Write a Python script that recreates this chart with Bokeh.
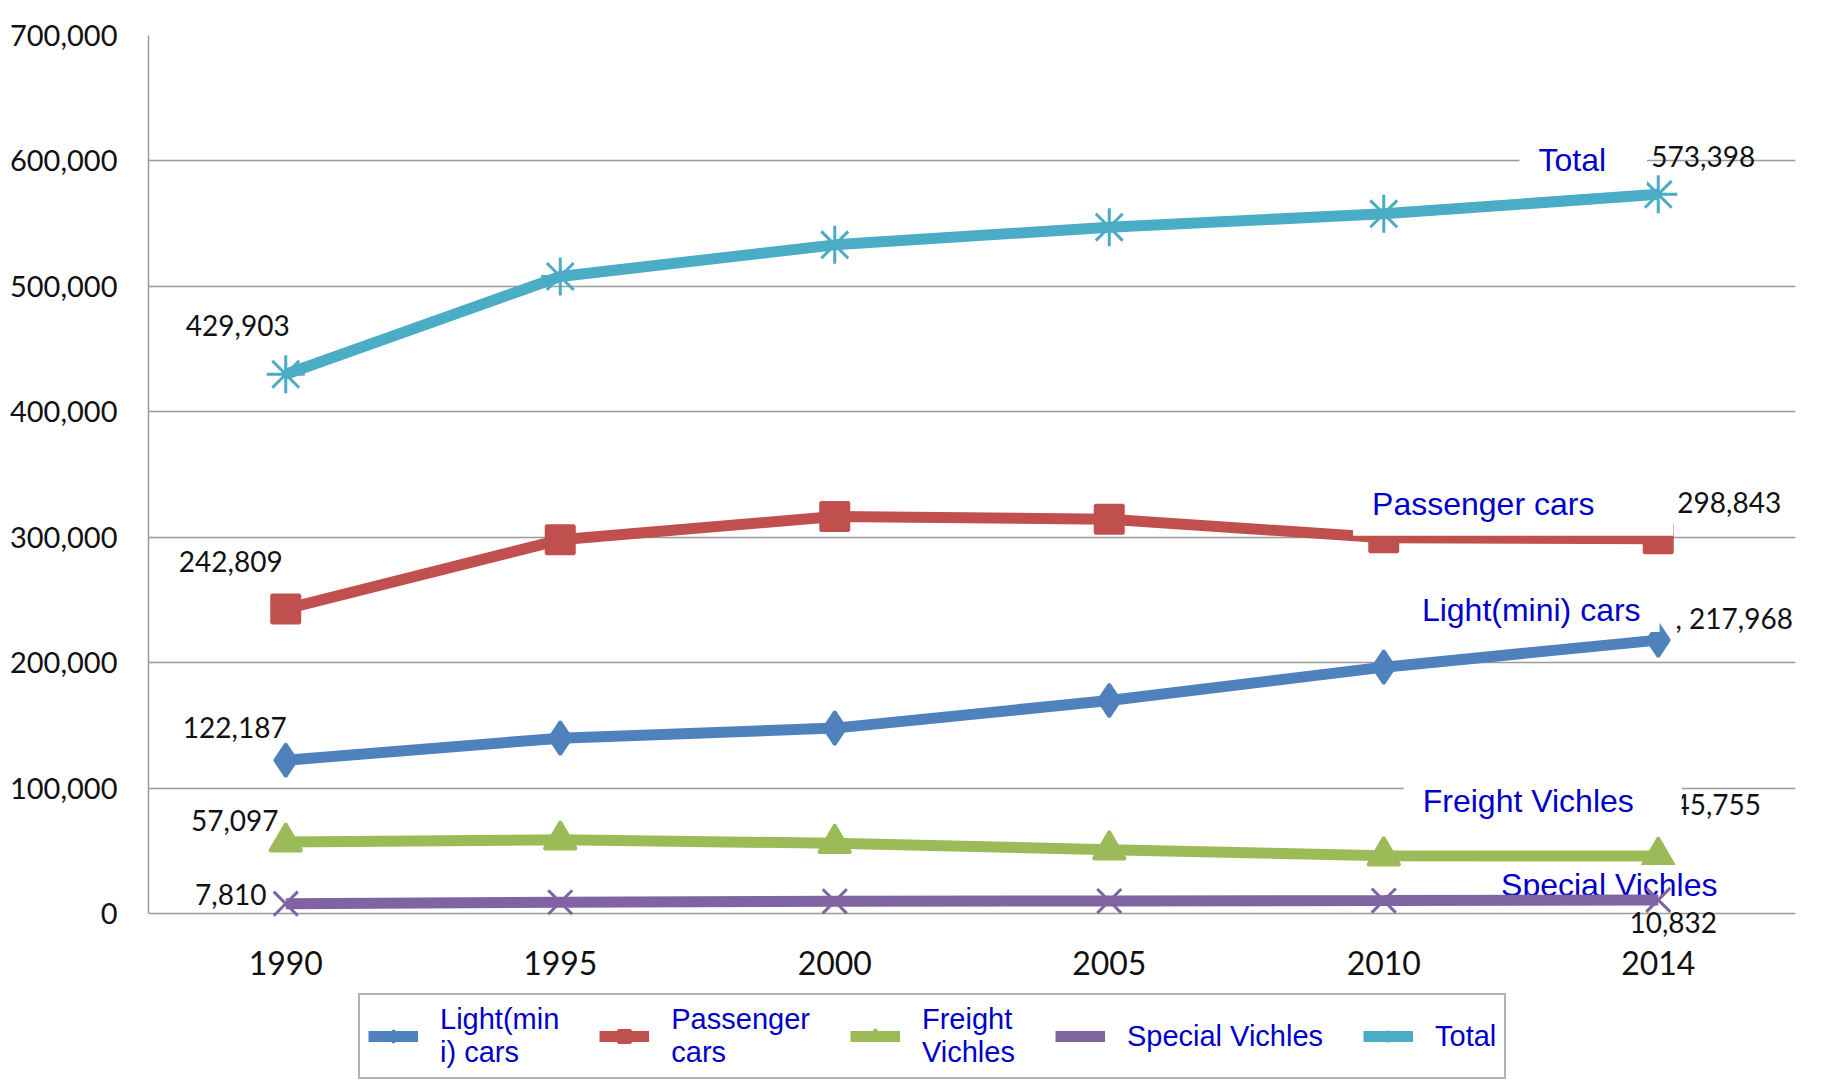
from bokeh.plotting import figure
from bokeh.models import FactorRange, Range1d, FixedTicker, NumeralTickFormatter, Legend, LegendItem
from bokeh.core.properties import value
from bokeh.embed import file_html
from bokeh.resources import INLINE

# ---------------- data ----------------
years = ["1990", "1995", "2000", "2005", "2010", "2014"]
light = [122187, 139800, 147800, 169800, 196400, 217968]
passenger = [242809, 297900, 316500, 314400, 299500, 298843]
freight = [57097, 58700, 56000, 50800, 46000, 45755]
special = [7810, 9000, 9700, 10000, 10300, 10832]
total = [429903, 507900, 533100, 547200, 557800, 573398]
y_ticks = [0, 100000, 200000, 300000, 400000, 500000, 600000, 700000]

series_names = ["Light(mini) cars", "Passenger cars", "Freight Vichles", "Special Vichles", "Total"]
legend_labels = ["Light(min\ni) cars", "Passenger\ncars", "Freight\nVichles", "Special Vichles", "Total"]
series_values = [light, passenger, freight, special, total]

# ---------------- styles ----------------
colors = ["#4F81BD", "#C0504D", "#9BBB59", "#8064A2", "#4BACC6"]
markers = ["diamond", "square", "triangle", "x", "asterisk"]
marker_sizes = [33, 28, 32, 34, 38]
line_widths = [11, 11, 11, 11, 11]
on_top = [False, False, False, True, False]   # drawn above the name-label boxes

# value-label offsets (screen px, +y = down) for first and last points
first_offsets = [(-51, -33), (-55, -47), (-51, -21), (-55, -9), (-48, -49)]
last_offsets = [(76, -22), (71, -36), (59, -52), (15, 23), (45, -38)]
last_prefix = [", ", "", "", "", ""]
# series-name label text-centre offsets and box paddings (left, right, top, bottom)
name_offsets = [(-127, -30), (-175, -35), (-130, -55), (-49, -15), (-86, -34)]
name_padding = [(19, 19, 4, 4), (19, 79, 4, 14), (19, 48, 6, 6), (19, 80, 2, 0), (19, 41, 6, 6)]

BLUE_TXT = "#0000CC"
GRID = "#9a9a9a"
TXT = "#111111"

# layout: 700,000 units over 878 px; the frame continues below zero to hold the legend
FRAME_TOP, ZERO_Y, FRAME_BOTTOM = 35, 913, 1079
px_per_unit = (ZERO_Y - FRAME_TOP) / y_ticks[-1]
y_start = -(FRAME_BOTTOM - ZERO_Y) / px_per_unit

p = figure(
    x_range=FactorRange(*years, range_padding=0),
    y_range=Range1d(y_start, y_ticks[-1]),
    frame_width=1647, frame_height=FRAME_BOTTOM - FRAME_TOP,
    min_border_left=148, min_border_right=29, min_border_top=FRAME_TOP, min_border_bottom=0,
    output_backend="svg", toolbar_location=None,
)
p.outline_line_color = None
p.background_fill_color = "white"
p.border_fill_color = "white"

p.xgrid.grid_line_color = None
p.ygrid.grid_line_color = GRID
p.ygrid.grid_line_width = 1.5
p.xaxis.visible = False

p.yaxis.ticker = FixedTicker(ticks=y_ticks)
p.yaxis.formatter = NumeralTickFormatter(format="0,0")
p.yaxis.bounds = (y_ticks[0], y_ticks[-1])
p.yaxis.axis_line_color = GRID
p.yaxis.axis_line_width = 1.5
p.yaxis.major_tick_line_color = None
p.yaxis.minor_tick_line_color = None
p.yaxis.major_label_text_font = "Lato"
p.yaxis.major_label_text_color = TXT
p.yaxis.major_label_text_font_size = "29px"
p.yaxis.major_label_standoff = 25

# category (year) labels under the zero line
p.text(x=years, y=[0] * len(years), text=years, y_offset=49,
       text_align="center", text_baseline="middle", text_font=value("Lato"),
       text_font_size="32px", text_color=TXT)

items = {}
def draw_series(i):
    vals, c = series_values[i], colors[i]
    lr = p.line(years, vals, line_color=c, line_width=line_widths[i])
    sr = p.scatter(years, vals, marker=markers[i], size=marker_sizes[i], fill_color=c, line_color=c, line_width=3)
    items[i] = LegendItem(label=legend_labels[i], renderers=[lr, sr])

for i in range(len(series_names)):
    if not on_top[i]:
        draw_series(i)

# value labels
for vals, (fx, fy), (lx, ly), pre in zip(series_values, first_offsets, last_offsets, last_prefix):
    p.text(x=[years[0]], y=[vals[0]], text=["{:,}".format(vals[0])], x_offset=fx, y_offset=fy,
           text_align="center", text_baseline="middle", text_font=value("Lato"),
           text_font_size="28px", text_color=TXT)
    p.text(x=[years[-1]], y=[vals[-1]], text=[pre + "{:,}".format(vals[-1])], x_offset=lx, y_offset=ly,
           text_align="center", text_baseline="middle", text_font=value("Lato"),
           text_font_size="28px", text_color=TXT)

# series name labels (white boxes)
for name, vals, (nx, ny), pad in zip(series_names, series_values, name_offsets, name_padding):
    pl, pr, pt, pb = pad
    p.text(x=[years[-1]], y=[vals[-1]], text=[name],
           x_offset=nx + (pr - pl) / 2, y_offset=ny + (pb - pt) / 2,
           text_align="center", text_baseline="middle", text_font=value("Liberation Sans"),
           text_font_size="32px", text_color=BLUE_TXT, text_line_height=0.9,
           background_fill_color="white", padding=pad)

for i in range(len(series_names)):
    if on_top[i]:
        draw_series(i)

legend = Legend(
    items=[items[i] for i in range(len(series_names))], orientation="horizontal", location=(210, 0),
    border_line_color="#666666", border_line_width=2,
    label_text_font="Liberation Sans", label_text_font_size="29px",
    label_text_color=BLUE_TXT, label_text_line_height=1.0,
    glyph_width=50, glyph_height=30, label_standoff=22, spacing=40,
    padding=8, margin=0, background_fill_color="white",
)
p.add_layout(legend)

open("out.html", "w").write(file_html(p, INLINE))
